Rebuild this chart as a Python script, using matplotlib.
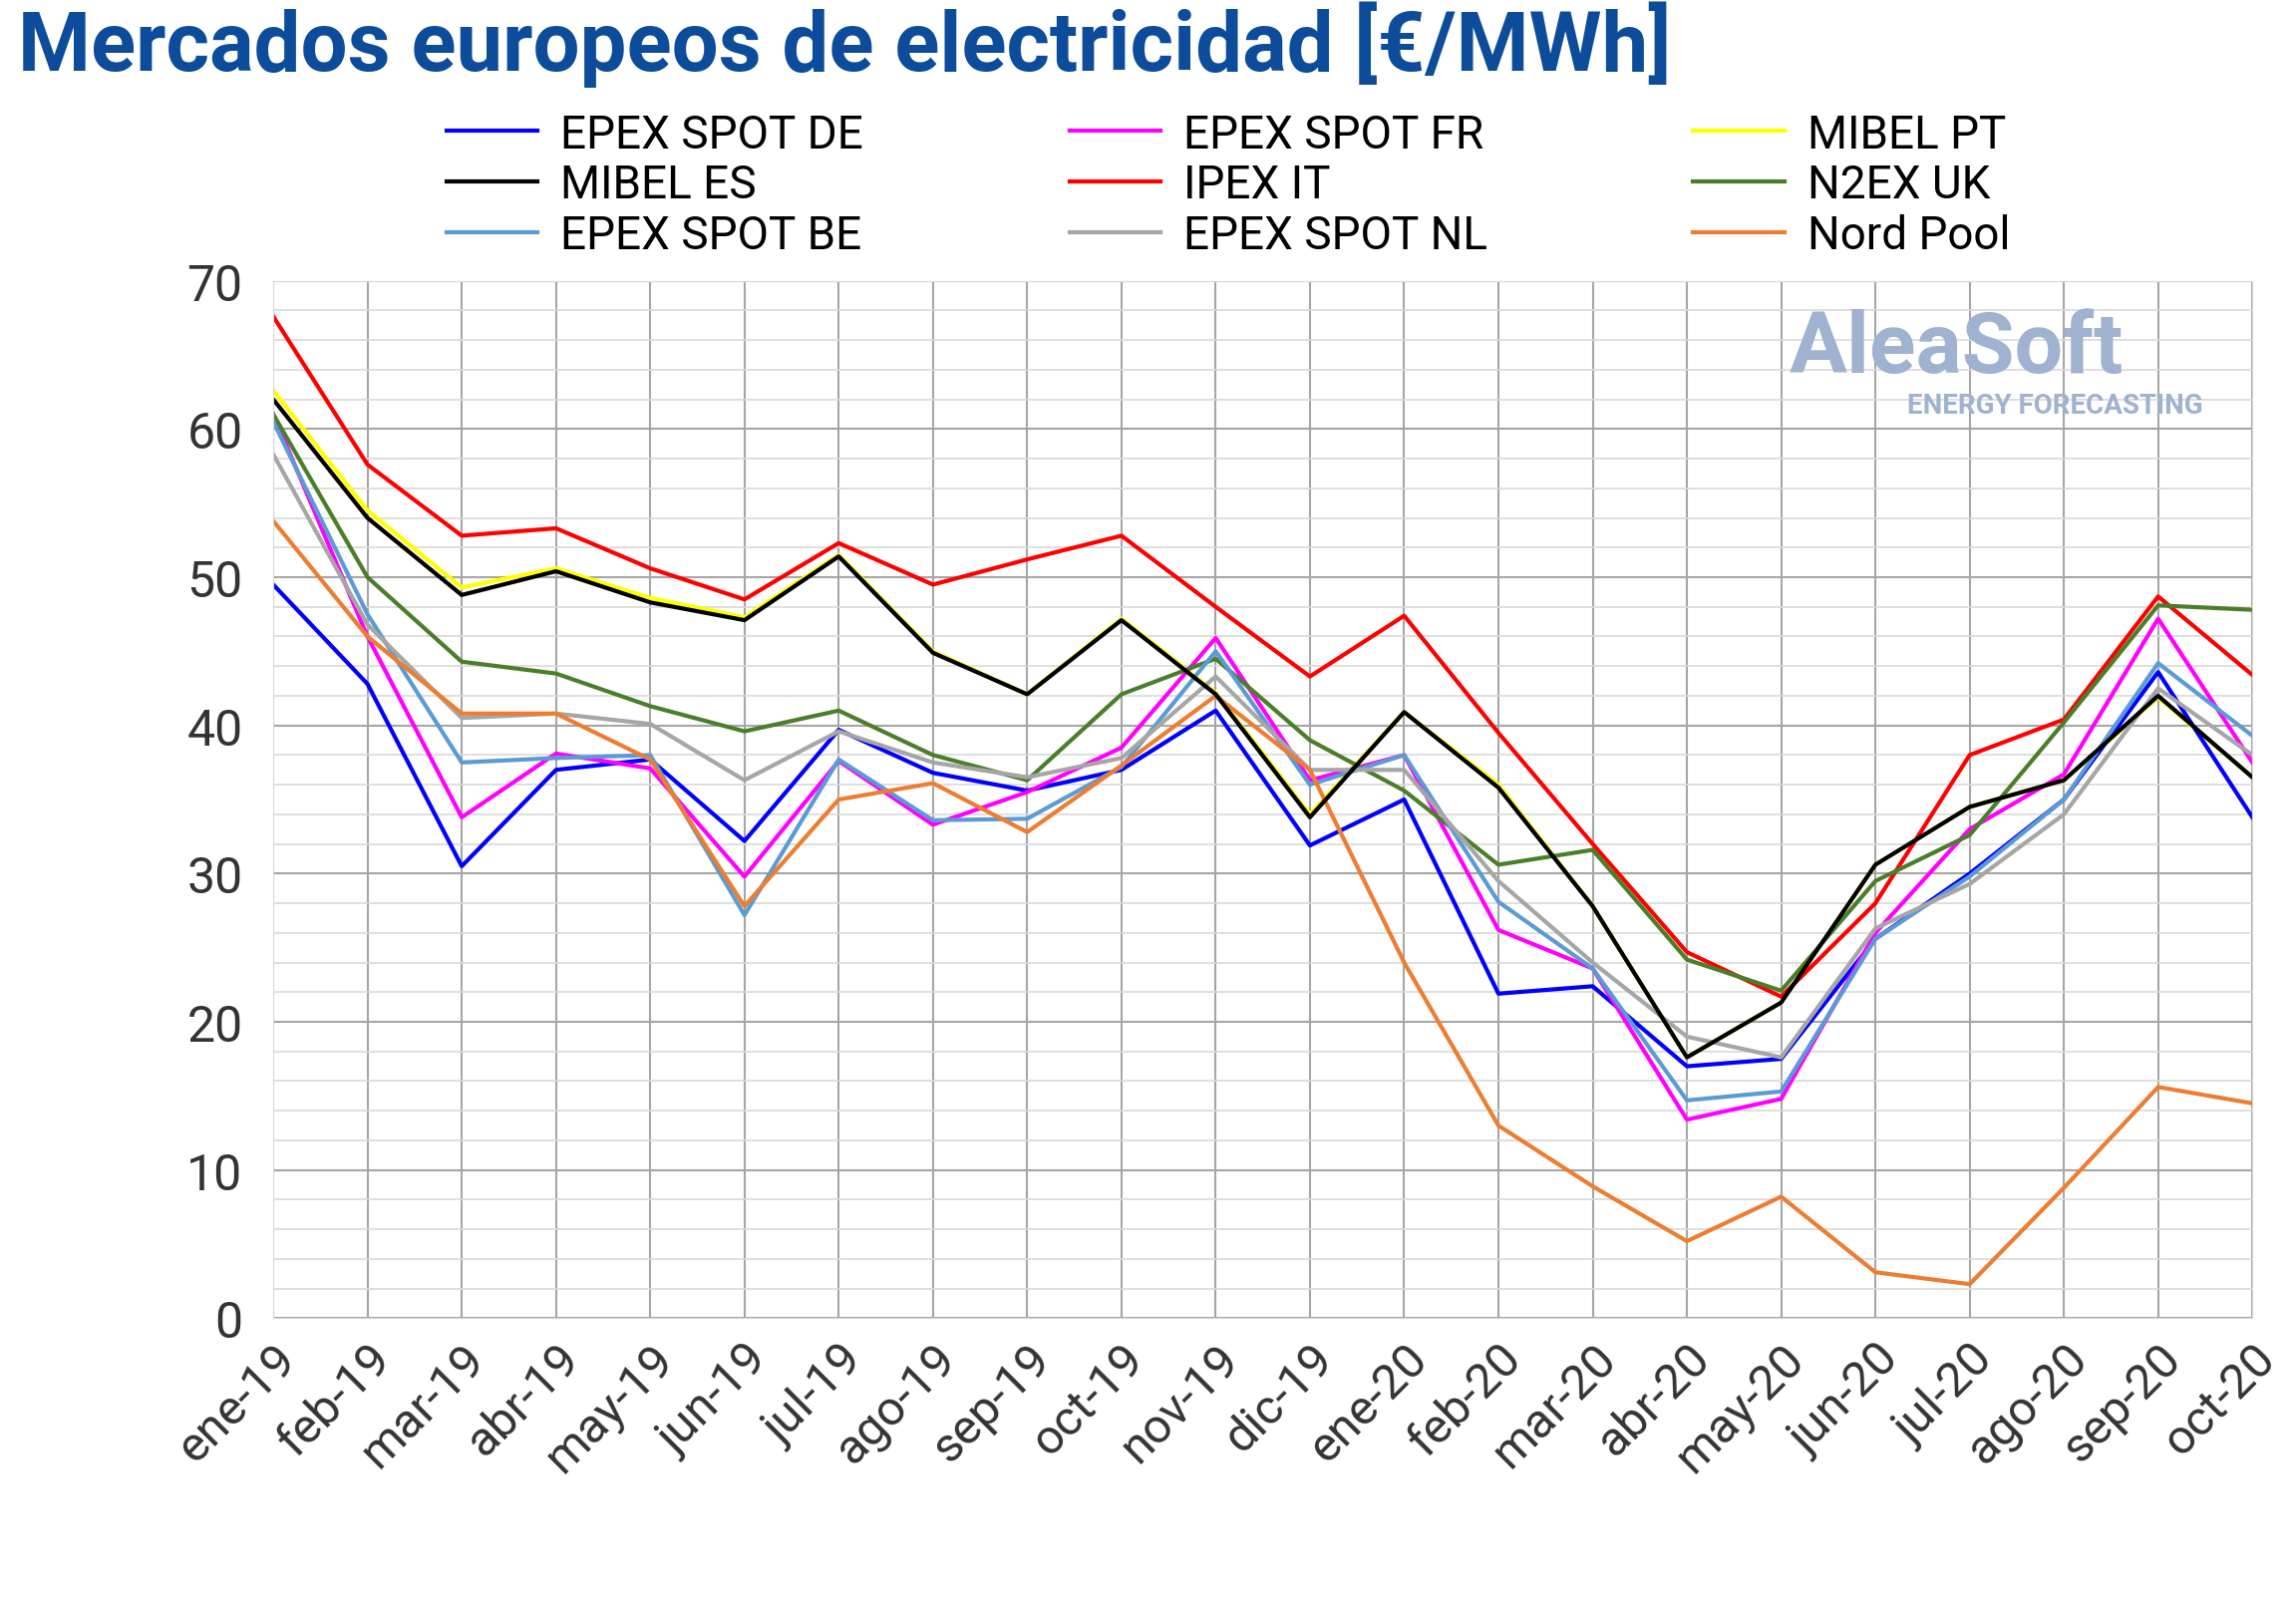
import matplotlib
matplotlib.use("Agg")
import matplotlib.pyplot as plt
from matplotlib.ticker import MultipleLocator

plt.rcParams['font.family'] = ['Roboto', 'DejaVu Sans']

months = ["ene-19", "feb-19", "mar-19", "abr-19", "may-19", "jun-19", "jul-19", "ago-19",
          "sep-19", "oct-19", "nov-19", "dic-19", "ene-20", "feb-20", "mar-20", "abr-20",
          "may-20", "jun-20", "jul-20", "ago-20", "sep-20", "oct-20"]

epex_de = [49.5, 42.8, 30.5, 37, 37.7, 32.2, 39.7, 36.8, 35.6, 37, 41, 31.9, 35, 21.9, 22.4, 17, 17.5, 25.6, 30, 35, 43.6, 33.8]
epex_fr = [61, 46, 33.8, 38.1, 37.1, 29.8, 37.6, 33.3, 35.5, 38.5, 45.9, 36.3, 38, 26.2, 23.6, 13.4, 14.8, 26, 33, 36.7, 47.2, 37.5]
mibel_pt = [62.6, 54.5, 49.3, 50.6, 48.6, 47.3, 51.5, 45, 42.1, 47.2, 42.2, 34, 40.9, 36, 27.8, 17.6, 21.3, 30.6, 34.5, 36.3, 41.9, 36.5]
mibel_es = [62, 54, 48.8, 50.4, 48.3, 47.1, 51.4, 44.9, 42.1, 47.1, 42.1, 33.8, 40.9, 35.8, 27.8, 17.6, 21.3, 30.6, 34.5, 36.3, 42, 36.5]
ipex_it = [67.6, 57.6, 52.8, 53.3, 50.6, 48.5, 52.3, 49.5, 51.2, 52.8, 48, 43.3, 47.4, 39.5, 32, 24.7, 21.7, 28, 38, 40.4, 48.7, 43.4]
n2ex_uk = [61, 50, 44.3, 43.5, 41.3, 39.6, 41, 38, 36.3, 42.1, 44.5, 39, 35.6, 30.6, 31.6, 24.2, 22.1, 29.5, 32.6, 40.2, 48.1, 47.8]
epex_be = [60.5, 47.5, 37.5, 37.8, 38, 27.2, 37.7, 33.6, 33.7, 37.2, 45, 36, 38, 28.1, 23.6, 14.7, 15.3, 25.6, 29.8, 35, 44.2, 39.3]
epex_nl = [58.3, 46.8, 40.5, 40.8, 40.1, 36.3, 39.6, 37.5, 36.5, 37.8, 43.3, 37, 37, 29.5, 24, 19, 17.6, 26.3, 29.3, 34, 42.5, 38]
nord_pool = [53.8, 46, 40.8, 40.8, 37.7, 27.8, 35, 36.1, 32.8, 37.3, 42, 37, 24, 13, 8.9, 5.2, 8.2, 3.1, 2.3, 8.8, 15.6, 14.5]

series = [
    ("EPEX SPOT DE", epex_de, "#0000FF"),
    ("EPEX SPOT FR", epex_fr, "#FF00FF"),
    ("MIBEL PT", mibel_pt, "#FFFF00"),
    ("MIBEL ES", mibel_es, "#000000"),
    ("IPEX IT", ipex_it, "#FF0000"),
    ("N2EX UK", n2ex_uk, "#4A7F2A"),
    ("EPEX SPOT BE", epex_be, "#5B9BD5"),
    ("EPEX SPOT NL", epex_nl, "#A6A6A6"),
    ("Nord Pool", nord_pool, "#ED7D31"),
]

fig = plt.figure(figsize=(23.03, 16.06), dpi=100)
ax = fig.add_axes([0.119, 0.176, 0.862, 0.648])

x = range(len(months))
lines = []
for name, vals, col in series:
    ln, = ax.plot(x, vals, color=col, lw=3, label=name)
    lines.append(ln)
lines[2].set_zorder(1.5)
lines[3].set_zorder(2.5)

ax.set_xlim(0, len(months) - 1)
ax.set_ylim(0, 70)
ax.yaxis.set_major_locator(MultipleLocator(10))
ax.yaxis.set_minor_locator(MultipleLocator(2))
ax.set_xticks(list(x))
ax.set_xticklabels(months, rotation=45, ha="right", rotation_mode="anchor", fontsize=35, color="#333333")
ax.tick_params(axis="y", labelsize=36, colors="#333333", length=0, which="both", pad=22)
ax.tick_params(axis="x", length=0, pad=12)
ax.grid(True, which="major", color="#A6A6A6", lw=1.5)
ax.grid(True, which="minor", axis="y", color="#D9D9D9", lw=1.2)
ax.set_axisbelow(True)
for s in ax.spines.values():
    s.set_color("#D9D9D9")

# legend filled row by row: reorder for matplotlib's column-major layout
leg_order = [0, 3, 6, 1, 4, 7, 2, 5, 8]
fig.legend(handles=[lines[i] for i in leg_order], loc="upper center", ncol=3,
           bbox_to_anchor=(0.535, 0.955), frameon=False, fontsize=33,
           handlelength=2.0, columnspacing=4.5, labelspacing=0.15, handletextpad=0.5)

fig.text(0.008, 0.972, "Mercados europeos de electricidad [€/MWh]", fontsize=60,
         fontweight="bold", color="#0D4C9A", va="center")

ax.text(0.935, 0.935, "AleaSoft", transform=ax.transAxes, fontsize=62, fontweight="bold",
        color="#9FB3D1", ha="right", va="center")
ax.text(0.975, 0.88, "ENERGY FORECASTING", transform=ax.transAxes, fontsize=20, fontweight="bold",
        color="#9FB3D1", ha="right", va="center")

fig.savefig("out.png", dpi=100)
